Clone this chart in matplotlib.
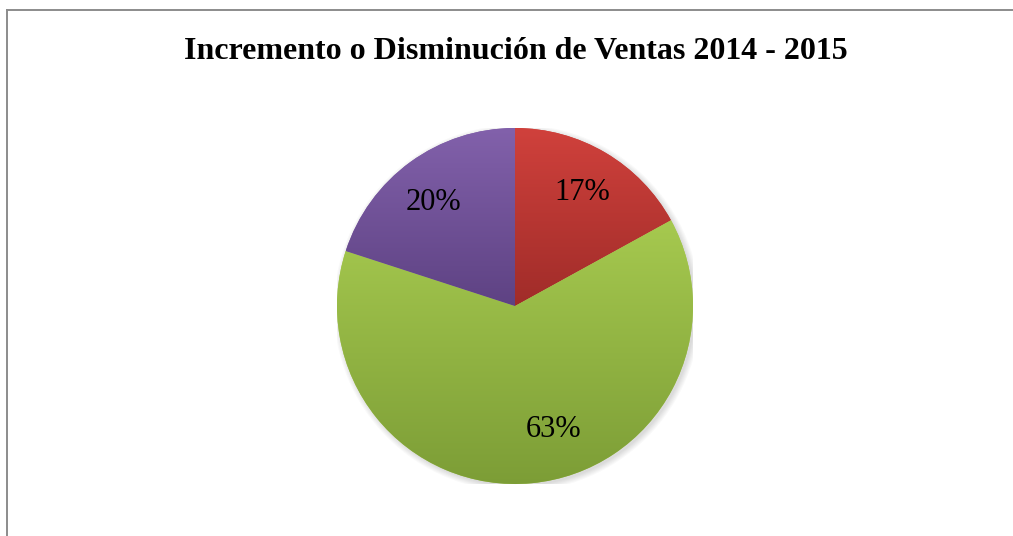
import numpy as np
import matplotlib.pyplot as plt
from matplotlib.lines import Line2D
from matplotlib.patches import Circle

# data
labels = ["Disminución", "Incremento", "Igual"]
shares = [17, 63, 20]
top_colors = ["#d0413c", "#a6c94f", "#8261ab"]
bottom_colors = ["#a02c29", "#7c9d36", "#5e4283"]

# label placement (fraction of radius, extra angle in degrees) like Excel's best fit
label_dist = [0.74, 0.73, 0.74]
label_shift = [0, 12, 2.5]

W, H = 1013, 536
fig = plt.figure(figsize=(W / 100, H / 100), dpi=100)

# pie axes placed so centre ~ (515, 306) px, radius ~178 px
cx, cy, r = 515, 306, 178
ax = fig.add_axes([(cx - r) / W, (H - cy - r) / H, 2 * r / W, 2 * r / H])

wedges, texts = ax.pie(shares, startangle=90, counterclock=False,
                       colors=top_colors, radius=1,
                       labels=[f"{v}%" for v in shares], labeldistance=0.73,
                       textprops=dict(family="Liberation Serif", fontsize=22,
                                      color="black", ha="center", va="center"),
                       wedgeprops=dict(linewidth=0))
for w, t, d, s in zip(wedges, texts, label_dist, label_shift):
    mid = np.deg2rad((w.theta1 + w.theta2) / 2 + s)
    t.set_position((d * np.cos(mid), d * np.sin(mid)))
    t.set_zorder(5)

# soft shadow
for k in range(6):
    ax.add_patch(Circle((0.012, -0.012), 1.0 + 0.006 * k, color="black",
                        alpha=0.025, zorder=0, lw=0))

# vertical gradient fill inside each wedge
def hex2rgb(h):
    return np.array([int(h[i:i + 2], 16) / 255 for i in (1, 3, 5)])

for w, c1, c2 in zip(wedges, top_colors, bottom_colors):
    verts = w.get_path().vertices
    x0, x1 = verts[:, 0].min(), verts[:, 0].max()
    y0, y1 = verts[:, 1].min(), verts[:, 1].max()
    t = np.linspace(0, 1, 256)[:, None]
    grad = (1 - t) * hex2rgb(c1) + t * hex2rgb(c2)
    img = np.repeat(grad[:, None, :], 2, axis=1)
    im = ax.imshow(img, extent=[x0, x1, y0, y1], origin="upper",
                   aspect="auto", zorder=2, interpolation="bilinear")
    im.set_clip_path(w)

ax.set_xlim(-1, 1)
ax.set_ylim(-1, 1)
ax.set_aspect("equal")
ax.axis("off")

# chart border (top and left edges visible)
fig.add_artist(Line2D([6.5 / W, 6.5 / W], [0, 1 - 9.5 / H], color="#8c8c8c",
                      lw=1.4, transform=fig.transFigure))
fig.add_artist(Line2D([6.5 / W, 1], [1 - 9.5 / H, 1 - 9.5 / H], color="#8c8c8c",
                      lw=1.4, transform=fig.transFigure))

fig.text(516 / W, 1 - 59 / H, "Incremento o Disminución de Ventas 2014 - 2015",
         family="Liberation Serif", fontweight="bold", fontsize=23,
         ha="center", va="baseline")

fig.savefig("out.png", dpi=100, facecolor="white")
